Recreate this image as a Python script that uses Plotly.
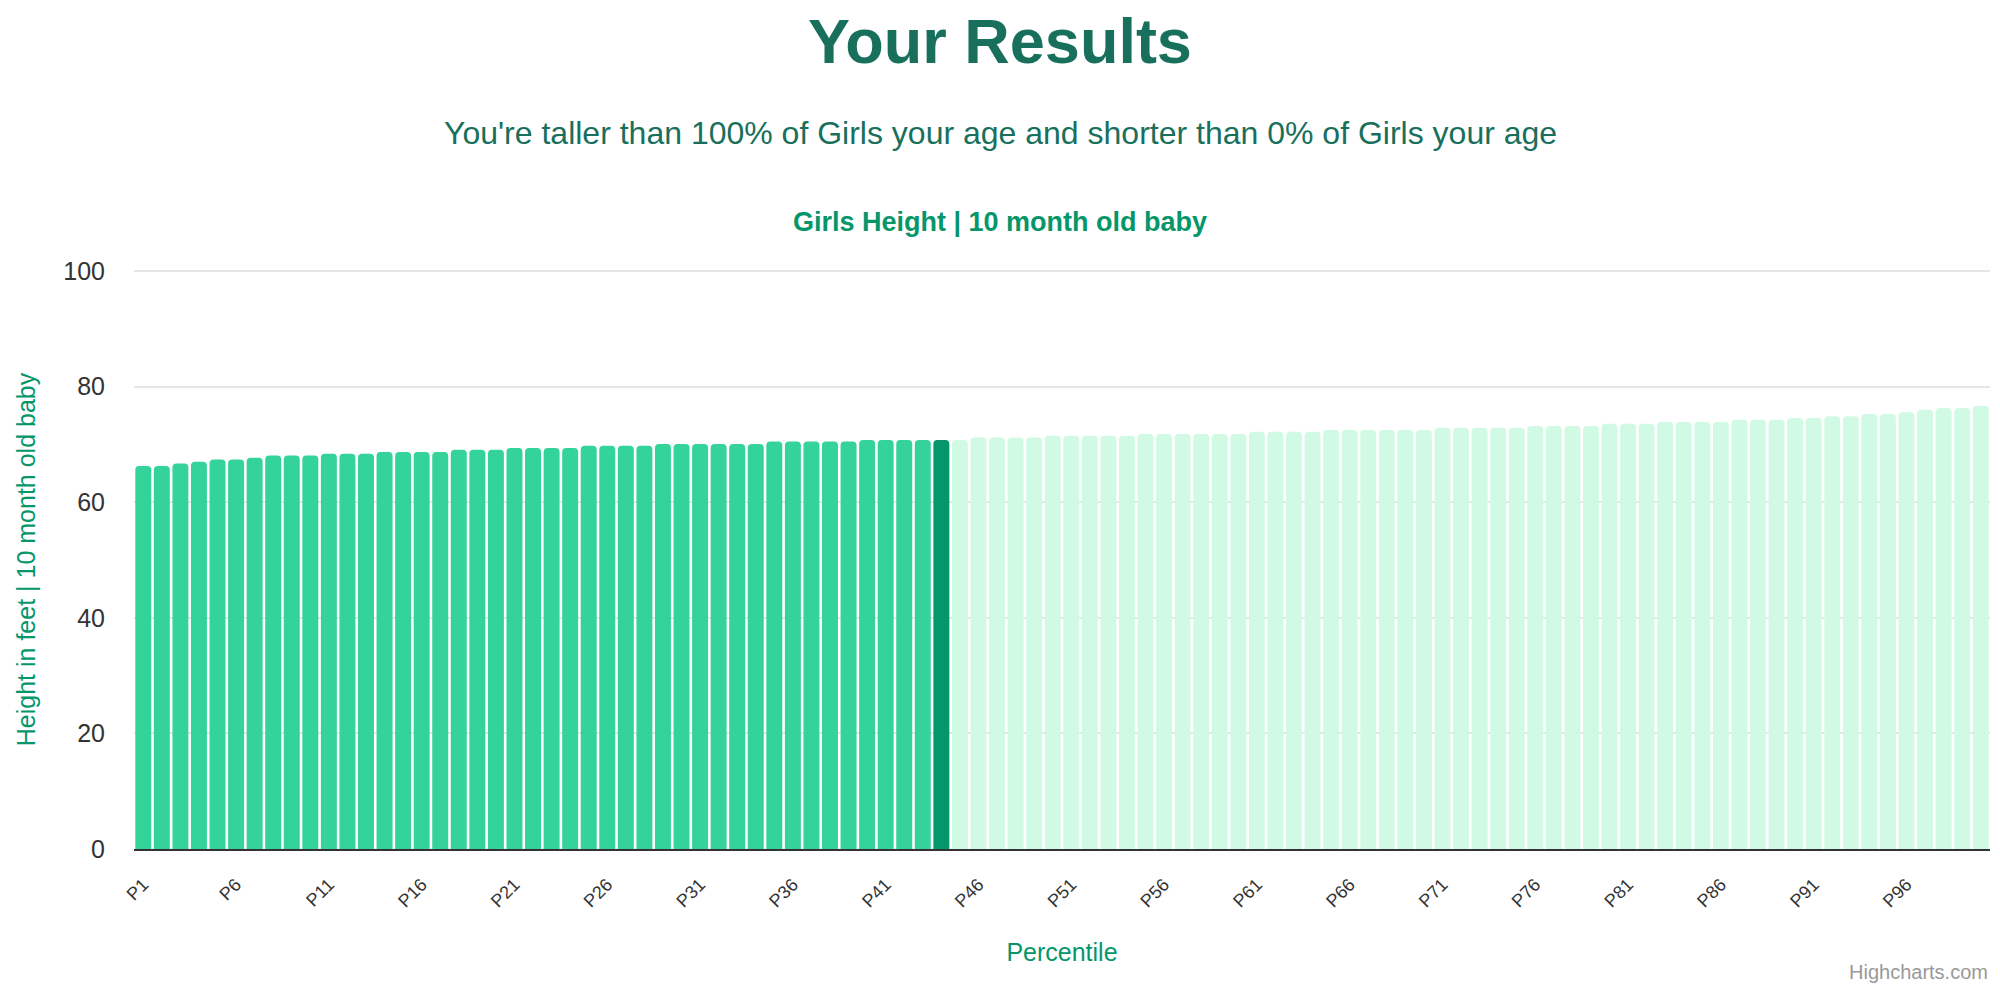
import plotly.graph_objects as go

# percentile categories and heights (cm, despite the axis label)
percentiles = ["P%d" % i for i in range(1, 101)]
heights = [
    66.3, 66.3, 66.7, 67.0, 67.4, 67.4, 67.7, 68.1, 68.1, 68.1,
    68.4, 68.4, 68.4, 68.7, 68.7, 68.7, 68.7, 69.1, 69.1, 69.1,
    69.4, 69.4, 69.4, 69.4, 69.8, 69.8, 69.8, 69.8, 70.1, 70.1,
    70.1, 70.1, 70.1, 70.1, 70.5, 70.5, 70.5, 70.5, 70.5, 70.8,
    70.8, 70.8, 70.8, 70.8, 70.8, 71.2, 71.2, 71.2, 71.2, 71.5,
    71.5, 71.5, 71.5, 71.5, 71.8, 71.8, 71.8, 71.8, 71.8, 71.8,
    72.2, 72.2, 72.2, 72.2, 72.5, 72.5, 72.5, 72.5, 72.5, 72.5,
    72.9, 72.9, 72.9, 72.9, 72.9, 73.2, 73.2, 73.2, 73.2, 73.6,
    73.6, 73.6, 73.9, 73.9, 73.9, 73.9, 74.3, 74.3, 74.3, 74.6,
    74.6, 74.9, 74.9, 75.3, 75.3, 75.6, 76.0, 76.3, 76.3, 76.7,
]
tick_labels = ["P1", "P6", "P11", "P16", "P21", "P26", "P31", "P36", "P41", "P46",
               "P51", "P56", "P61", "P66", "P71", "P76", "P81", "P86", "P91", "P96"]
your_percentile = "P44"

FONT = "Liberation Sans, Arial, Helvetica, sans-serif"
W, H = 2000, 988
M_L, M_R, M_T, M_B = 134, 10, 270, 139


def py(y_px):
    # pixel row from top of page -> paper coordinate
    return (H - M_B - y_px) / (H - M_T - M_B)


def px(x_px):
    # pixel column from left of page -> paper coordinate
    return (x_px - M_L) / (W - M_L - M_R)


colors = []
seen = False
for p in percentiles:
    if p == your_percentile:
        colors.append("#059669")
        seen = True
    elif seen:
        colors.append("#d1fae5")
    else:
        colors.append("#34d399")

fig = go.Figure()
fig.add_trace(go.Bar(x=percentiles, y=heights,
                     marker=dict(color=colors, line=dict(width=0)),
                     hovertemplate="%{x}: %{y}<extra></extra>"))

fig.update_layout(
    width=W, height=H,
    margin=dict(l=M_L, r=M_R, t=M_T, b=M_B),
    paper_bgcolor="white", plot_bgcolor="white",
    font=dict(family=FONT, color="#333333"),
    bargap=0.14, barcornerradius=4,
    showlegend=False,
    annotations=[
        dict(text="<b>Your Results</b>", x=px(1000), y=py(41), xref="paper", yref="paper",
             showarrow=False, yanchor="middle", font=dict(size=63, color="#18705c")),
        dict(text="You're taller than 100% of Girls your age and shorter than 0% of Girls your age",
             x=px(1000), y=py(133), xref="paper", yref="paper", showarrow=False,
             yanchor="middle", font=dict(size=32, color="#18705c")),
        dict(text="<b>Girls Height | 10 month old baby</b>", x=px(1000), y=py(222),
             xref="paper", yref="paper", showarrow=False, yanchor="middle",
             font=dict(size=27, color="#059669")),
        dict(text="Highcharts.com", x=px(1990), y=py(972), xref="paper", yref="paper",
             showarrow=False, xanchor="right", yanchor="middle",
             font=dict(size=20, color="#999999")),
    ],
)

fig.update_xaxes(
    type="category",
    tickmode="array", tickvals=tick_labels, ticktext=tick_labels,
    tickangle=-45, tickfont=dict(size=18, color="#333333"),
    ticks="", ticklabelstandoff=16, showgrid=False,
    showline=True, linecolor="#333333", linewidth=2,
    title=dict(text="Percentile", font=dict(size=25, color="#059669"), standoff=33),
    automargin=False,
)
fig.update_yaxes(
    range=[0, 100.2], tickvals=[0, 20, 40, 60, 80, 100],
    tickfont=dict(size=25, color="#333333"),
    ticks="", ticklabelstandoff=28,
    showgrid=True, gridcolor="#e6e6e6", gridwidth=2,
    zeroline=False, showline=False,
    title=dict(text="Height in feet | 10 month old baby",
               font=dict(size=25, color="#059669"), standoff=20),
    automargin=False,
)

fig.write_html("out.html", config={"displayModeBar": False},
               post_script="document.body.style.margin='0';")
